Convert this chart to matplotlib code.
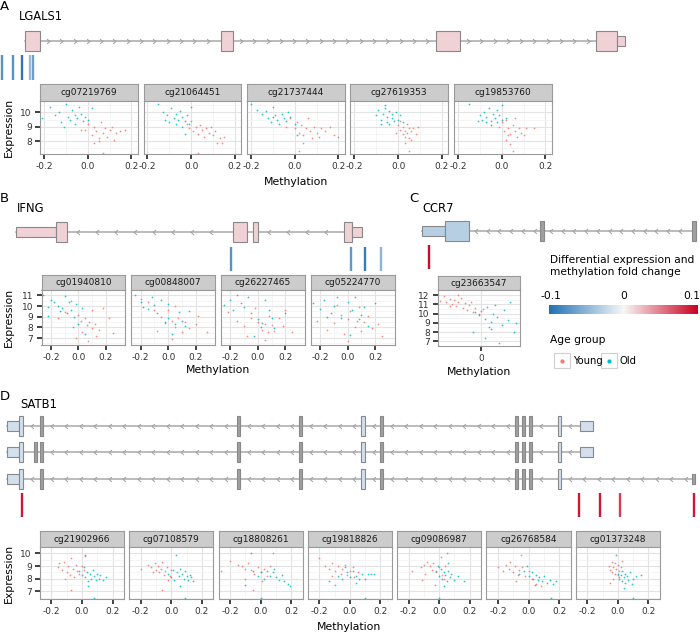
import numpy as np
import matplotlib
matplotlib.use("Agg")
import matplotlib.pyplot as plt
from matplotlib.patches import Rectangle
from matplotlib.path import Path
from matplotlib.colors import LinearSegmentedColormap, Normalize
import matplotlib.colorbar as mcb

# ---------------- data ----------------
# gene models: (start, end, kind) in track units
lgals1_exons = [(25, 40, "exon"), (221, 233, "exon"), (436, 460, "exon"),
                (596, 617, "exon"), (617, 625, "utr")]
ifng_exons = [(16, 56, "utr"), (56, 67, "exon"), (233, 247, "exon"), (253, 258, "exon"),
              (344, 352, "exon"), (352, 362, "utr")]
ccr7_exons = [(422, 445, "utr"), (445, 469, "exon"), (540, 544, "narrow"), (692, 696, "narrow")]
satb1_common = [(7, 19, "utr"), (19, 23, "exon"), (40, 43, "narrow"), (237, 240, "narrow"),
                (299, 302, "narrow"), (361, 365, "exon"), (380, 383, "narrow"),
                (515, 518, "narrow"), (522, 525, "narrow"), (529, 532, "narrow"),
                (558, 561, "exon")]
satb1_tx1 = satb1_common + [(580, 593, "utr")]
satb1_tx2 = satb1_common + [(34, 37, "narrow"), (580, 593, "utr")]
satb1_tx3 = satb1_common + [(692, 695, "stub")]

# differential expression fold change per gene
gene_fc = {"LGALS1": 0.015, "IFNG": 0.015, "CCR7": -0.03, "SATB1": -0.017}

# CpG probe positions and methylation fold change
lgals1_probe_pos = [2, 13, 22, 30, 33]
lgals1_probe_fc = [-0.075, -0.075, -0.095, -0.045, -0.065]
ifng_probe_pos = [231, 351, 365, 381]
ifng_probe_fc = [-0.075, -0.07, -0.09, -0.05]
ccr7_probe_pos = [429]
ccr7_probe_fc = [0.095]
satb1_probe_pos = [22, 579, 600, 620, 694]
satb1_probe_fc = [0.09, 0.09, 0.09, 0.075, 0.09]

lgals1_probes = ["cg07219769", "cg21064451", "cg21737444", "cg27619353", "cg19853760"]
ifng_probes = ["cg01940810", "cg00848007", "cg26227465", "cg05224770"]
ccr7_probes = ["cg23663547"]
satb1_probes = ["cg21902966", "cg07108579", "cg18808261", "cg19818826",
                "cg09086987", "cg26768584", "cg01373248"]

# (methylation, expression) per probe
lgals1_young = [
    [(-0.01, 8.8), (0.0, 9.2), (0.02, 8.4), (0.03, 9.0), (0.04, 8.7), (0.05, 8.2), (0.06, 9.3),
     (0.07, 8.6), (0.08, 8.9), (0.09, 8.3), (0.10, 8.8), (0.11, 9.0), (0.12, 8.1), (0.13, 8.6),
     (0.15, 8.7), (0.17, 8.8), (0.03, 7.9), (0.05, 8.0), (0.07, 7.2), (-0.03, 8.8)],
    [(-0.02, 9.2), (-0.01, 8.9), (0.0, 9.4), (0.01, 8.7), (0.02, 9.0), (0.03, 8.5), (0.04, 9.1),
     (0.05, 8.8), (0.06, 8.3), (0.07, 8.9), (0.08, 8.6), (0.09, 9.0), (0.10, 8.4), (0.11, 8.7),
     (0.12, 7.9), (0.13, 8.2), (0.14, 7.9), (0.03, 7.2), (0.15, 8.3)],
    [(-0.04, 9.0), (-0.02, 9.6), (0.0, 8.9), (0.01, 9.3), (0.02, 8.6), (0.03, 9.1), (0.04, 8.4),
     (0.05, 8.9), (0.06, 9.6), (0.07, 8.7), (0.08, 8.2), (0.09, 9.0), (0.1, 8.6), (0.11, 8.3),
     (0.12, 8.9), (0.14, 8.7), (0.16, 9.0), (0.18, 8.4), (0.2, 8.3), (0.04, 7.9), (0.02, 7.3)],
    [(0.0, 9.1), (0.01, 8.8), (0.01, 9.4), (0.02, 8.5), (0.02, 9.0), (0.03, 8.7), (0.03, 8.3),
     (0.04, 9.2), (0.04, 8.6), (0.05, 8.9), (0.05, 8.2), (0.06, 8.7), (0.07, 8.9), (0.08, 8.5),
     (0.03, 7.9), (0.05, 7.3), (0.09, 9.0), (-0.01, 8.6), (0.06, 8.1)],
    [(-0.01, 9.0), (0.0, 9.3), (0.01, 8.7), (0.02, 9.5), (0.03, 8.9), (0.04, 8.5), (0.05, 9.1),
     (0.06, 8.7), (0.07, 8.3), (0.08, 8.9), (0.09, 8.6), (0.10, 8.4), (0.15, 8.9), (0.05, 7.3),
     (0.02, 8.1), (0.04, 7.8), (0.06, 9.6), (0.11, 8.9), (0.03, 8.4)],
]
lgals1_old = [
    [(-0.21, 9.6), (-0.17, 10.4), (-0.15, 9.8), (-0.13, 10.0), (-0.12, 9.3), (-0.11, 9.0),
     (-0.10, 10.6), (-0.09, 9.7), (-0.08, 9.5), (-0.07, 10.2), (-0.06, 9.8), (-0.05, 9.6),
     (-0.04, 10.4), (-0.03, 9.9), (-0.02, 9.4), (-0.01, 9.7), (0.0, 9.5), (-0.06, 9.2), (0.02, 10.3)],
    [(-0.15, 10.6), (-0.13, 10.0), (-0.11, 9.8), (-0.10, 9.3), (-0.09, 10.3), (-0.08, 9.6),
     (-0.07, 9.9), (-0.06, 9.5), (-0.05, 10.1), (-0.04, 9.7), (-0.03, 9.4), (-0.02, 9.8),
     (-0.01, 9.2), (-0.04, 9.0), (-0.07, 9.2), (-0.12, 9.5), (0.0, 10.4), (-0.03, 8.5)],
    [(-0.2, 10.6), (-0.17, 10.2), (-0.15, 9.9), (-0.13, 10.1), (-0.12, 9.6), (-0.11, 9.3),
     (-0.10, 10.4), (-0.09, 9.8), (-0.08, 9.5), (-0.06, 9.9), (-0.05, 9.6), (-0.04, 9.4),
     (-0.03, 10.0), (-0.02, 9.7), (0.0, 9.2), (-0.07, 9.2), (0.01, 8.4), (-0.1, 9.7)],
    [(-0.1, 9.8), (-0.09, 10.2), (-0.08, 9.5), (-0.07, 9.9), (-0.06, 10.5), (-0.05, 9.7),
     (-0.05, 9.3), (-0.04, 10.1), (-0.03, 9.6), (-0.03, 9.9), (-0.02, 9.4), (-0.01, 10.0),
     (0.0, 9.5), (0.01, 9.8), (-0.08, 9.2), (-0.04, 9.2), (0.02, 9.3), (-0.06, 10.3)],
    [(-0.15, 10.6), (-0.1, 9.8), (-0.09, 9.5), (-0.08, 10.0), (-0.07, 9.7), (-0.06, 10.3),
     (-0.05, 9.4), (-0.04, 9.9), (-0.03, 9.6), (-0.02, 10.2), (-0.02, 9.3), (-0.01, 9.8),
     (0.0, 9.5), (-0.05, 9.1), (-0.11, 9.4), (0.0, 10.5), (0.02, 9.6), (-0.07, 9.3)],
]
ifng_young = [
    [(-0.15, 8.9), (-0.1, 9.4), (-0.05, 10.5), (0.0, 9.2), (0.02, 8.6), (0.03, 7.6), (0.05, 8.9),
     (0.06, 8.2), (0.08, 8.5), (0.1, 7.9), (0.12, 8.3), (0.13, 7.2), (0.15, 7.8), (0.18, 9.8),
     (0.22, 8.9), (0.25, 7.5), (0.07, 6.7), (0.1, 9.6), (-0.02, 7.0)],
    [(-0.2, 10.7), (-0.15, 10.4), (-0.1, 9.6), (-0.05, 9.0), (-0.02, 8.4), (0.0, 9.6), (0.03, 8.6),
     (0.05, 8.0), (0.07, 8.9), (0.1, 7.6), (0.12, 8.5), (0.15, 7.9), (0.2, 8.3), (0.22, 9.1),
     (0.28, 7.6), (0.03, 6.9), (-0.08, 7.7), (0.05, 10.0)],
    [(-0.22, 9.4), (-0.15, 8.6), (-0.1, 8.1), (-0.05, 8.9), (-0.02, 9.8), (0.0, 8.5), (0.03, 7.8),
     (0.05, 8.3), (0.07, 7.6), (0.1, 8.2), (0.12, 7.7), (0.15, 8.9), (0.18, 8.1), (0.2, 9.6),
     (0.25, 7.6), (0.05, 6.8), (0.08, 9.1), (-0.08, 7.2)],
    [(-0.22, 8.6), (-0.15, 7.8), (-0.1, 8.4), (-0.05, 9.2), (-0.03, 7.4), (0.0, 8.8), (0.02, 9.5),
     (0.05, 8.0), (0.07, 8.6), (0.1, 7.7), (0.12, 8.5), (0.15, 9.1), (0.18, 7.9), (0.22, 8.3),
     (0.25, 7.2), (0.0, 6.7), (0.08, 9.9), (-0.08, 10.1)],
]
ifng_old = [
    [(-0.26, 11.0), (-0.22, 9.9), (-0.2, 10.6), (-0.18, 10.4), (-0.15, 10.0), (-0.13, 9.5),
     (-0.12, 9.8), (-0.1, 10.9), (-0.08, 9.3), (-0.07, 10.4), (-0.05, 9.6), (-0.03, 9.0),
     (-0.02, 10.2), (0.0, 8.3), (0.03, 9.8), (-0.22, 9.1), (-0.04, 8.0), (0.05, 7.4)],
    [(-0.24, 11.0), (-0.2, 10.4), (-0.15, 9.7), (-0.1, 10.1), (-0.05, 10.6), (0.0, 10.2), (0.0, 8.9),
     (0.05, 8.3), (0.1, 8.6), (0.12, 8.1), (-0.08, 9.3), (-0.12, 10.8), (0.08, 9.4), (-0.18, 9.9),
     (0.03, 7.4), (0.15, 9.5), (-0.02, 8.5)],
    [(-0.25, 10.1), (-0.2, 10.6), (-0.18, 9.6), (-0.15, 11.0), (-0.1, 9.9), (-0.05, 9.3), (0.0, 8.8),
     (0.03, 8.4), (0.05, 10.6), (0.08, 9.6), (-0.12, 10.3), (0.02, 8.0), (0.1, 8.9), (-0.03, 7.2),
     (0.2, 9.3), (-0.07, 10.8), (0.12, 7.9)],
    [(-0.25, 10.3), (-0.2, 9.7), (-0.17, 10.6), (-0.12, 9.3), (-0.1, 10.0), (-0.05, 8.9), (0.0, 10.4),
     (0.03, 9.6), (0.05, 10.8), (0.08, 8.8), (0.1, 9.2), (-0.08, 10.8), (0.15, 8.1), (0.2, 10.3),
     (-0.15, 9.0), (0.02, 7.3), (0.12, 9.9)],
]
ccr7_young = [
    [(-0.2, 11.4), (-0.18, 11.9), (-0.17, 11.2), (-0.15, 11.6), (-0.14, 11.0), (-0.13, 11.5),
     (-0.12, 10.8), (-0.11, 11.3), (-0.1, 11.7), (-0.09, 10.6), (-0.08, 11.1), (-0.07, 10.4),
     (-0.06, 10.9), (-0.05, 11.3), (-0.04, 10.2), (-0.03, 10.6), (-0.11, 12.0), (-0.01, 10.0),
     (-0.15, 10.8), (0.01, 10.5)],
]
ccr7_old = [
    [(-0.03, 10.2), (-0.01, 9.8), (0.0, 10.3), (0.02, 9.4), (0.03, 10.7), (0.05, 9.1), (0.06, 10.0),
     (0.08, 9.6), (0.1, 8.8), (0.11, 10.4), (0.13, 9.3), (0.04, 8.5), (0.02, 7.4), (0.09, 6.8),
     (-0.04, 8.0), (0.16, 8.0), (0.07, 10.9), (0.14, 11.2), (0.05, 8.3), (0.17, 9.0)],
]
satb1_young = [
    [(-0.16, 8.9), (-0.15, 9.2), (-0.13, 8.7), (-0.12, 9.3), (-0.1, 8.5), (-0.09, 9.0), (-0.08, 8.3),
     (-0.07, 9.6), (-0.06, 8.8), (-0.05, 8.1), (-0.04, 9.1), (-0.03, 8.6), (-0.02, 8.4), (0.0, 9.0),
     (0.02, 9.8), (-0.07, 7.1), (-0.11, 8.0), (0.01, 8.7)],
    [(-0.2, 8.8), (-0.15, 9.1), (-0.13, 8.9), (-0.11, 9.2), (-0.1, 8.7), (-0.09, 9.0), (-0.08, 8.5),
     (-0.07, 8.8), (-0.06, 9.3), (-0.05, 8.3), (-0.04, 8.6), (-0.03, 8.9), (-0.02, 7.9), (0.0, 8.7),
     (-0.06, 7.1), (-0.01, 8.2), (-0.12, 8.5)],
    [(-0.26, 8.6), (-0.2, 9.4), (-0.15, 9.1), (-0.12, 9.0), (-0.1, 8.8), (-0.08, 9.2), (-0.06, 8.7),
     (-0.04, 8.4), (-0.02, 8.9), (0.0, 8.5), (0.02, 8.8), (0.04, 8.2), (0.06, 9.0), (0.08, 10.0),
     (-0.05, 7.1), (-0.1, 8.0), (0.01, 7.8)],
    [(-0.2, 9.6), (-0.16, 9.0), (-0.14, 8.8), (-0.12, 9.2), (-0.1, 8.6), (-0.08, 9.0), (-0.06, 8.4),
     (-0.05, 8.8), (-0.03, 9.1), (-0.02, 8.3), (0.0, 8.6), (0.02, 8.9), (0.03, 8.1), (-0.1, 7.5),
     (0.05, 8.5), (-0.12, 8.2)],
    [(-0.18, 8.6), (-0.12, 8.9), (-0.1, 9.1), (-0.09, 8.4), (-0.08, 9.3), (-0.06, 9.0), (-0.05, 8.7),
     (-0.04, 9.2), (-0.02, 8.5), (0.0, 8.9), (0.01, 9.7), (0.02, 8.3), (0.04, 9.0), (0.05, 10.0),
     (-0.11, 7.9), (-0.03, 7.5), (0.03, 8.0)],
    [(-0.2, 8.9), (-0.17, 8.6), (-0.15, 9.1), (-0.13, 8.8), (-0.12, 9.3), (-0.1, 8.5), (-0.09, 9.0),
     (-0.07, 8.3), (-0.06, 8.7), (-0.04, 8.9), (-0.02, 8.2), (0.0, 8.6), (0.02, 8.0), (0.05, 7.6),
     (-0.08, 7.8), (0.08, 7.4), (-0.05, 9.9)],
    [(-0.06, 9.0), (-0.05, 8.7), (-0.04, 9.3), (-0.04, 8.5), (-0.03, 8.9), (-0.02, 9.2), (-0.02, 8.4),
     (-0.01, 8.8), (0.0, 9.1), (0.0, 8.3), (0.01, 8.6), (0.02, 8.9), (-0.03, 8.0), (0.03, 9.4),
     (-0.05, 7.7), (0.01, 8.1)],
]
satb1_old = [
    [(-0.02, 8.6), (0.0, 8.3), (0.01, 8.9), (0.02, 8.1), (0.03, 8.5), (0.04, 7.8), (0.05, 8.4),
     (0.06, 8.0), (0.07, 8.7), (0.08, 8.2), (0.09, 7.9), (0.1, 8.4), (0.11, 8.0), (0.12, 8.3),
     (0.14, 7.9), (0.16, 8.1), (0.02, 9.9), (0.04, 7.4), (0.08, 6.5)],
    [(-0.02, 8.4), (0.0, 8.1), (0.01, 8.7), (0.02, 7.9), (0.04, 8.5), (0.05, 8.2), (0.06, 7.4),
     (0.07, 8.4), (0.08, 8.0), (0.09, 8.6), (0.1, 8.2), (0.11, 7.9), (0.12, 8.3), (0.13, 8.1),
     (0.14, 7.8), (0.03, 9.9), (0.09, 6.5), (0.06, 8.8)],
    [(-0.1, 7.5), (-0.05, 8.6), (-0.02, 8.2), (0.0, 8.5), (0.02, 8.0), (0.04, 8.6), (0.06, 8.2),
     (0.08, 8.5), (0.1, 8.1), (0.12, 7.9), (0.14, 8.3), (0.15, 7.8), (0.18, 7.6), (0.19, 7.4),
     (-0.06, 10.0), (0.0, 6.5), (0.09, 8.8)],
    [(-0.14, 7.8), (-0.08, 8.2), (-0.05, 8.0), (-0.02, 8.5), (0.0, 8.1), (0.02, 8.6), (0.04, 8.2),
     (0.06, 8.0), (0.08, 8.4), (0.1, 8.0), (0.12, 8.4), (0.14, 8.4), (0.16, 8.4), (0.1, 6.5),
     (0.04, 7.7), (-0.03, 8.9)],
    [(-0.02, 8.6), (0.0, 8.2), (0.01, 8.8), (0.02, 8.0), (0.03, 8.5), (0.04, 8.3), (0.05, 7.8),
     (0.06, 8.6), (0.07, 8.1), (0.08, 8.4), (0.1, 7.9), (0.12, 8.2), (0.16, 7.8), (0.0, 6.5),
     (0.03, 7.4), (-0.01, 9.0), (0.06, 9.2)],
    [(-0.06, 8.4), (-0.03, 8.6), (0.0, 8.2), (0.02, 8.5), (0.03, 8.0), (0.05, 8.3), (0.06, 7.9),
     (0.07, 8.1), (0.09, 7.8), (0.1, 8.2), (0.12, 7.7), (0.14, 7.9), (0.16, 7.6), (0.18, 7.8),
     (0.15, 6.5), (0.04, 7.5), (-0.01, 9.0)],
    [(0.0, 8.4), (0.01, 8.0), (0.02, 8.3), (0.03, 7.8), (0.03, 8.6), (0.04, 8.1), (0.05, 8.4),
     (0.05, 7.7), (0.06, 8.2), (0.07, 7.9), (0.08, 8.5), (0.09, 7.6), (0.1, 8.0), (0.12, 8.2),
     (0.15, 8.3), (0.04, 7.3), (-0.01, 9.9), (0.1, 6.5)],
]

# ---------------- style ----------------
W, H = 700, 635
YOUNG_C = "#F8766D"
OLD_C = "#00BFC4"
cmap = LinearSegmentedColormap.from_list("fc", ["#2171b5", "#f7f7f7", "#ca0020"])
norm = Normalize(-0.1, 0.1)
HALF = {"exon": 10, "utr": 5, "narrow": 10, "stub": 5}

fig = plt.figure(figsize=(7, 6.35), dpi=100)


def px_axes(x, y, w, h):
    return fig.add_axes([x / W, 1 - (y + h) / H, w / W, h / H])


track = px_axes(0, 0, W, H)
track.set_xlim(0, W)
track.set_ylim(H, 0)
track.axis("off")
track.patch.set_visible(False)

CHEV_L = Path([(0.6, 1), (-0.6, 0), (0.6, -1)], [Path.MOVETO, Path.LINETO, Path.LINETO])
CHEV_R = Path([(-0.6, 1), (0.6, 0), (-0.6, -1)], [Path.MOVETO, Path.LINETO, Path.LINETO])


def draw_transcript(exons, y, strand, gene, spacing):
    color = cmap(norm(gene_fc[gene]))
    ex = sorted(exons)
    track.plot([ex[0][0], max(e[1] for e in ex)], [y, y], color="#a8a8a8", lw=1.1, zorder=1)
    xs = []
    for (s0, e0, _), (s1, e1, _) in zip(ex[:-1], ex[1:]):
        xs.extend(np.arange(e0 + spacing * 0.6, s1 - spacing * 0.2, spacing))
    track.plot(xs, [y] * len(xs), ls="none", marker=CHEV_L if strand == "-" else CHEV_R,
               ms=3.5, mew=0.7, mec="#a0a0a0", mfc="none", zorder=2)
    for s, e, kind in ex:
        h = HALF[kind]
        fc = color if kind in ("exon", "utr") else "#a0a0a0"
        track.add_patch(Rectangle((s, y - h), e - s, 2 * h, fc=fc, ec="#888888", lw=0.8, zorder=3))


def draw_probes(pos, fc, y0, y1):
    track.vlines(pos, y0, y1, colors=[cmap(norm(v)) for v in fc], lw=1.7)


draw_transcript(lgals1_exons, 41, "+", "LGALS1", 13.3)
draw_probes(lgals1_probe_pos, lgals1_probe_fc, 55, 80)
draw_transcript(ifng_exons, 232, "-", "IFNG", 19)
draw_probes(ifng_probe_pos, ifng_probe_fc, 247, 271)
draw_transcript(ccr7_exons, 231, "-", "CCR7", 11.7)
draw_probes(ccr7_probe_pos, ccr7_probe_fc, 245, 269)
for tx, yy in zip([satb1_tx1, satb1_tx2, satb1_tx3], [426, 452, 479]):
    draw_transcript(tx, yy, "-", "SATB1", 14.5)
draw_probes(satb1_probe_pos, satb1_probe_fc, 493, 517)


def facet_row(probes, young, old, x0, step, w, top, strip_h, plot_h, xlim, ylim, xticks, xlabels,
              yticks):
    for i, name in enumerate(probes):
        x = x0 + i * step
        sax = px_axes(x, top, w, strip_h)
        sax.set_facecolor("#cccccc")
        sax.set_xticks([])
        sax.set_yticks([])
        for sp in sax.spines.values():
            sp.set_color("#9a9a9a")
            sp.set_linewidth(0.8)
        sax.text(0.5, 0.5, name, ha="center", va="center", fontsize=6.5, color="#1a1a1a",
                 transform=sax.transAxes)

        ax = px_axes(x, top + strip_h, w, plot_h)
        yx, yy = zip(*young[i])
        ox, oy = zip(*old[i])
        ax.scatter(yx, yy, s=1.6, c=YOUNG_C, alpha=0.85, lw=0, zorder=3)
        ax.scatter(ox, oy, s=1.6, c=OLD_C, alpha=0.85, lw=0, zorder=3)
        ax.set_xlim(*xlim)
        ax.set_ylim(*ylim)
        ax.set_xticks(xticks)
        ax.set_xticklabels(xlabels)
        ax.set_yticks(yticks)
        ax.set_yticklabels([str(v) for v in yticks])
        if len(xticks) > 1:
            ax.set_xticks([(a + b) / 2 for a, b in zip(xticks[:-1], xticks[1:])], minor=True)
        ax.set_yticks([v + 0.5 for v in yticks] + [yticks[0] - 0.5], minor=True)
        ax.set_axisbelow(True)
        ax.grid(True, which="major", color="#e3e3e3", lw=0.8)
        ax.grid(True, which="minor", color="#f1f1f1", lw=0.5)
        ax.tick_params(which="minor", length=0)
        ax.tick_params(which="major", direction="out", length=3.5, width=1.3, color="#333333",
                       labelsize=6.5, labelcolor="#333333", pad=2.5)
        if i > 0:
            ax.tick_params(axis="y", length=0, labelleft=False)
        for sp in ax.spines.values():
            sp.set_color("#9a9a9a")
            sp.set_linewidth(0.8)


facet_row(lgals1_probes, lgals1_young, lgals1_old, 40, 103.5, 97.5, 84, 17, 53,
          (-0.218, 0.228), (7.1, 10.8), [-0.2, 0.0, 0.2], ["-0.2", "0.0", "0.2"], [8, 9, 10])
facet_row(ifng_probes, ifng_young, ifng_old, 41.5, 89.8, 84, 275, 15, 55,
          (-0.268, 0.343), (6.35, 11.35), [-0.2, 0.0, 0.2], ["-0.2", "0.0", "0.2"], [7, 8, 9, 10, 11])
facet_row(ccr7_probes, ccr7_young, ccr7_old, 438, 0, 82, 276, 14, 56,
          (-0.21, 0.19), (6.55, 12.55), [0.0], ["0"], [7, 8, 9, 10, 11, 12])
facet_row(satb1_probes, satb1_young, satb1_old, 40, 89.3, 84, 531, 16, 52,
          (-0.275, 0.275), (6.4, 10.17), [-0.2, 0.0, 0.2], ["-0.2", "0.0", "0.2"], [7, 8, 9, 10])


def ftext(x, y, s, **kw):
    fig.text(x / W, 1 - y / H, s, **kw)


# panel letters and gene names
for letter, lx, ly, gene, gx, gy in [("A", 0, 6.5, "LGALS1", 19, 16), ("B", 0, 198, "IFNG", 17, 208),
                                     ("C", 409, 198, "CCR7", 422, 209), ("D", 0, 396, "SATB1", 20, 405)]:
    ftext(lx, ly, letter, fontsize=9.5, va="center", ha="left")
    ftext(gx, gy, gene, fontsize=8.3, va="center", ha="left")

# axis titles
for mx, my in [(296, 182), (218, 370), (479, 372), (349, 627)]:
    ftext(mx, my, "Methylation", fontsize=7.8, ha="center", va="center")
for ey in [127.5, 317, 573]:
    ftext(9, ey, "Expression", fontsize=7.8, ha="center", va="center", rotation=90)

# colour legend
ftext(550, 255, "Differential expression and\nmethylation fold change", fontsize=7.7,
      ha="left", va="top", linespacing=1.3)
cax = px_axes(549, 305, 149, 9)
cb = mcb.ColorbarBase(cax, cmap=cmap, norm=norm, orientation="horizontal")
cb.outline.set_visible(False)
cb.set_ticks([-0.097, 0, 0.092])
cb.set_ticklabels(["-0.1", "0", "0.1"])
cax.xaxis.set_ticks_position("top")
cax.tick_params(length=0, labelsize=7.7, pad=3)

# age group legend
ftext(550, 340, "Age group", fontsize=7.7, ha="left", va="center")
for kx, label, col in [(554, "Young", YOUNG_C), (601, "Old", OLD_C)]:
    fig.patches.append(Rectangle((kx / W, 1 - 368 / H), 16 / W, 15 / H, transform=fig.transFigure,
                                 fc="white", ec="#d0d0d0", lw=0.8))
    fig.add_artist(plt.Line2D([(kx + 8) / W], [1 - 360.5 / H], marker="o", ms=2, color=col,
                              transform=fig.transFigure))
    ftext(kx + 19, 360.5, label, fontsize=7.2, ha="left", va="center")

fig.savefig("out.png", dpi=100)
